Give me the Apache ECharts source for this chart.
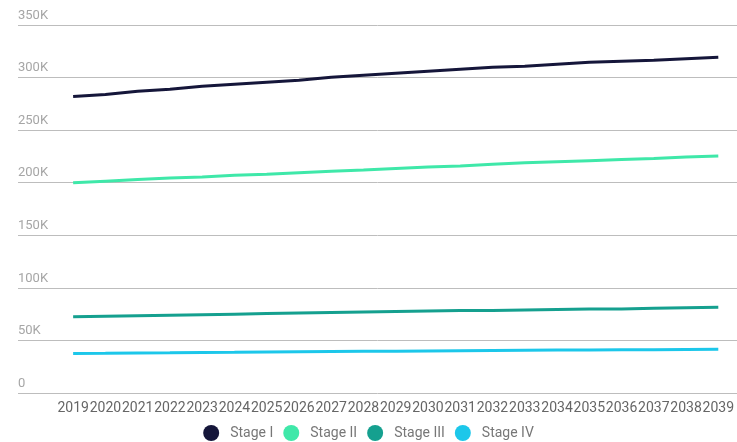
<!DOCTYPE html>
<html><head><meta charset="utf-8">
<script src="https://cdn.jsdelivr.net/npm/echarts@6/dist/echarts.min.js"></script>
<style>html,body{margin:0;padding:0;background:#fff}#c{width:737px;height:442px}</style>
</head><body><div id="c"></div>
<script>
const years = ['2019','2020','2021','2022','2023','2024','2025','2026','2027','2028','2029','2030','2031','2032','2033','2034','2035','2036','2037','2038','2039'];
const stageI = [282000,284000,287000,289000,291800,293700,295600,297500,300400,302300,304200,306100,308000,309900,310800,312700,314600,315600,316500,318000,319400];
const stageII = [200000,201500,203000,204500,205500,207000,208000,209500,211000,212000,213500,215000,216000,217500,219000,220000,221000,222000,223000,224500,225500];
const stageIII = [72500,73000,73500,74000,74500,75000,75500,76000,76500,77000,77500,78000,78500,78500,79000,79500,80000,80000,80500,81000,81500];
const stageIV = [37500,37700,38000,38200,38500,38700,39000,39200,39400,39600,39800,40000,40200,40400,40600,40800,41000,41100,41200,41400,41500];
const yTicks = {min:0, max:350000, interval:50000};
const names = ['Stage I','Stage II','Stage III','Stage IV'];
const colors = ['#15163a','#3fe8a9','#15a08f','#1cc7ea'];
const seriesData = [stageI, stageII, stageIII, stageIV];

const chart = echarts.init(document.getElementById('c'));
const font = 'Roboto, sans-serif';
chart.setOption({
  animation:false,
  grid:[
    {left:18, right:0, top:25, bottom:49, containLabel:false},
    {left:57, right:1, top:25, bottom:49, containLabel:false}
  ],
  legend:{
    data:names, top:420, left:'center', padding:5, icon:'circle', itemWidth:16, itemHeight:16, itemGap:10,
    textStyle:{color:'#777', fontSize:14, fontFamily:font, padding:[0,0,0,6]}
  },
  xAxis:[
    {gridIndex:0, type:'value', show:false, min:0, max:1},
    {gridIndex:1, type:'category', data:years, boundaryGap:true,
     axisLine:{show:false}, axisTick:{show:false},
     axisLabel:{interval:0, color:'#666', fontSize:14, fontFamily:font, margin:8}}
  ],
  yAxis:[
    {gridIndex:0, type:'value', min:yTicks.min, max:yTicks.max, interval:yTicks.interval,
     axisLine:{show:false}, axisTick:{show:false},
     splitLine:{lineStyle:{color:'#bdbdbd', width:1}},
     axisLabel:{inside:true, margin:0, verticalAlign:'bottom', padding:[0,0,3,0], color:'#a6a6a6', fontSize:13, fontFamily:font,
       formatter:v=> v===0 ? '0' : (v/1000)+'K'}},
    {gridIndex:1, type:'value', min:yTicks.min, max:yTicks.max, interval:yTicks.interval, show:false, splitLine:{show:false}}
  ],
  series: names.map((n,i)=>({
    name:n, type:'line', xAxisIndex:1, yAxisIndex:1, data:seriesData[i],
    symbol:'none', showSymbol:false, color:colors[i],
    lineStyle:{width:3, color:colors[i]}
  }))
});
</script></body></html>
